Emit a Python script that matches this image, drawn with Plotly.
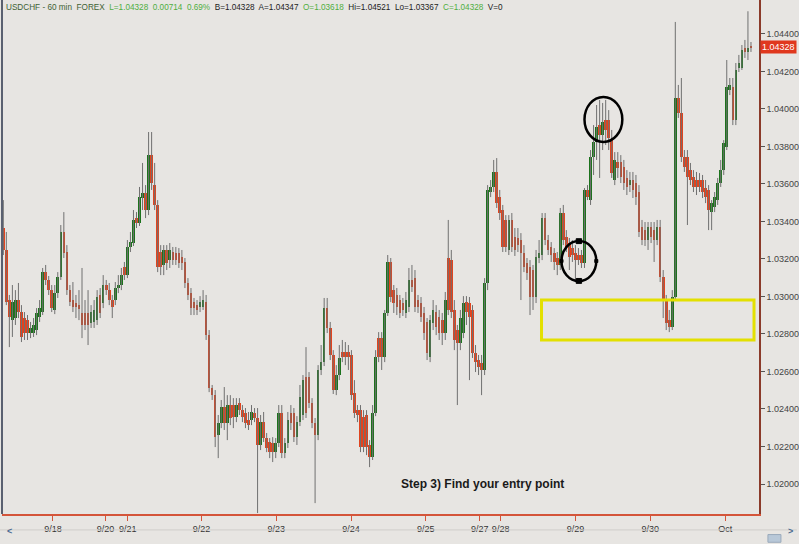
import plotly.graph_objects as go

SCALE = 1e5  # prices below are stored in units of 0.00001

open5 = [
103365,103248,102981,102874,102885,102981,102917,102885,102874,102805,
102805,102821,102890,102917,103130,103088,103034,102928,103018,103104,
103344,103237,103034,102981,102965,102954,102912,102912,102912,102858,
102864,102874,103008,102965,103061,103034,102981,102981,103045,103061,
103157,103114,103264,103285,103418,103392,103525,103552,103461,103754,
103594,103488,103237,103168,103248,103194,103237,103232,103232,103210,
103184,103072,103018,102970,102954,102944,102944,102970,102794,102512,
102474,102261,102325,102410,102325,102421,102421,102357,102432,102394,
102378,102341,102341,102378,102352,102208,102330,102245,102224,102218,
102170,102218,102378,102165,102218,102378,102378,102250,102330,102368,
102570,102570,102432,102325,102261,102608,102650,102938,102832,102688,
102501,102581,102704,102704,102704,102688,102485,102394,102394,102357,
102368,102208,102144,102378,102778,102778,102677,102912,103184,103034,
103008,102981,102965,102912,102944,103088,103098,102981,102965,102912,
102864,102677,102858,102917,102890,102874,102805,103205,103194,102928,
102821,102752,102805,102970,102965,102928,102698,102661,102645,102608,
103072,103557,103584,103664,103530,103461,103408,103248,103408,103317,
103312,103301,103232,103178,103157,103141,102997,103205,103221,103418,
103301,103264,103232,103205,103168,103445,103317,103285,103258,103232,
103221,103221,103178,103568,103514,103744,103824,103914,103861,103941,
103941,103834,103621,103717,103717,103690,103632,103594,103621,103605,
103557,103370,103354,103301,103370,103354,103301,103370,103104,102981,
102874,102837,102997,104058,103978,103744,103744,103674,103637,103621,
103621,103621,103578,103568,103450,103477,103514,103605,103674,103797,
104101,104117,103941,104218,104218,104325,104304,104330,
]

high5 = [
103514,103344,103008,103061,103034,103072,102954,102917,102901,102864,
102885,102938,102981,103152,103168,103109,103061,103061,103130,103381,
103450,103274,103061,103077,103008,103034,103152,102981,103034,102954,
102981,103034,103045,103114,103088,103072,103008,103077,103114,103152,
103184,103301,103344,103461,103450,103584,103712,103594,103877,103877,
103712,103514,103274,103274,103274,103285,103264,103264,103258,103248,
103205,103098,103045,102992,102981,103002,103034,103008,102821,102528,
102501,102368,102448,102517,102474,102474,102458,102458,102458,102421,
102405,102384,102421,102405,102405,102368,102384,102272,102245,102250,
102245,102421,102421,102245,102384,102421,102405,102362,102528,102581,
102730,102597,102458,102352,102634,102741,102992,102992,102864,102714,
102634,102741,102768,102757,102741,102714,102554,102421,102421,102394,
102394,102234,102421,102714,102810,102810,102928,103221,103205,103061,
103045,103008,102992,103024,103152,103168,103141,103008,102997,102944,
102885,102901,102981,102954,102928,102912,103024,103408,103248,102981,
102848,102928,103002,103002,102997,102954,102741,102688,102688,103098,
103594,103621,103728,103738,103568,103488,103434,103434,103445,103365,
103365,103338,103274,103205,103194,103168,103248,103301,103445,103445,
103328,103290,103258,103237,103472,103488,103354,103312,103301,103274,
103258,103248,103578,103594,103781,103914,104021,104048,104032,104048,
103994,103888,103770,103770,103754,103728,103674,103664,103664,103648,
103594,103408,103397,103397,103397,103397,103408,103408,103141,103008,
102928,103034,104464,104128,104165,103781,103781,103712,103674,103664,
103658,103648,103621,103594,103514,103557,103632,103728,103834,104261,
104165,104165,104245,104288,104341,104368,104521,104357,
]

low5 = [
103221,102954,102730,102784,102848,102885,102757,102768,102768,102778,
102784,102794,102864,102901,103061,103008,102917,102906,102992,103088,
103205,103008,102949,102917,102885,102874,102778,102821,102741,102832,
102832,102848,102885,102938,103008,102954,102885,102954,103018,103034,
103088,103098,103237,103269,103365,103376,103461,103418,103434,103568,
103461,103130,103114,103114,103141,103152,103168,103168,103152,103141,
103045,102981,102901,102901,102901,102917,102928,102768,102490,102448,
102197,102138,102298,102288,102234,102314,102298,102330,102368,102330,
102298,102288,102314,102330,101845,102181,102224,102170,102138,102117,
102138,102197,102138,102138,102192,102288,102224,102208,102309,102341,
102352,102405,102298,101898,102234,102581,102629,102805,102661,102480,
102474,102554,102650,102634,102608,102448,102352,102330,102170,102170,
102154,102090,102128,102362,102650,102608,102650,102896,102970,102912,
102901,102885,102896,102885,102917,103024,102917,102912,102864,102768,
102661,102650,102821,102794,102768,102741,102768,102901,102885,102714,
102421,102714,102778,102848,102554,102672,102597,102581,102474,102581,
103034,103530,103557,103472,103408,103237,103237,103221,103237,103216,
103237,102981,103130,103088,102901,102928,102965,103178,103194,103274,
103221,103184,103141,103114,103141,103274,103237,103141,103184,103088,
103168,103152,103152,103514,103488,103648,103728,103632,103781,103808,
103781,103632,103594,103632,103605,103568,103541,103557,103525,103488,
103317,103274,103269,103248,103285,103184,103274,103077,102885,102821,
102810,102821,102981,103952,103717,103664,103381,103594,103557,103541,
103557,103525,103498,103354,103354,103450,103488,103584,103648,103781,
104074,103914,103914,104197,104208,104272,104261,104304,
]

close5 = [
103248,102970,102890,102970,102981,102917,102784,102805,102805,102832,
102848,102912,102938,103130,103088,103034,102938,103018,103104,103344,
103232,103034,102970,102944,102944,102933,102848,102848,102848,102917,
102928,102997,102912,103061,103034,102981,102944,103045,103061,103114,
103114,103264,103290,103408,103392,103530,103552,103461,103754,103605,
103488,103157,103157,103248,103178,103248,103194,103194,103178,103178,
103072,103008,102938,102938,102928,102970,102981,102794,102512,102474,
102250,102325,102410,102325,102421,102352,102357,102421,102394,102357,
102325,102314,102384,102352,102208,102330,102245,102192,102170,102170,
102218,102378,102165,102218,102341,102325,102250,102330,102464,102554,
102378,102432,102325,102261,102608,102650,102938,102832,102688,102501,
102581,102672,102677,102677,102677,102474,102378,102368,102197,102197,
102197,102144,102378,102677,102677,102677,102912,103184,102997,102965,
102944,102912,102928,102981,103088,103050,102944,102944,102890,102805,
102698,102874,102928,102837,102805,102805,102981,102928,102917,102768,
102752,102885,102965,102917,102890,102698,102650,102624,102608,103072,
103568,103584,103664,103498,103445,103264,103264,103408,103264,103248,
103274,103232,103157,103125,102997,102997,103210,103232,103418,103301,
103248,103221,103184,103168,103445,103301,103264,103210,103221,103194,
103194,103178,103568,103530,103744,103824,103904,103861,103930,103888,
103845,103658,103728,103685,103637,103605,103584,103621,103568,103530,
103344,103301,103301,103370,103317,103301,103370,103104,102981,102858,
102837,102997,104058,103978,103744,103690,103637,103621,103584,103584,
103584,103557,103530,103461,103498,103530,103605,103674,103818,104117,
104128,103941,104208,104245,104314,104304,104325,104328,
]

date_labels = ["9/18", "9/20", "9/21", "9/22", "9/23", "9/24", "9/25",
               "9/27", "9/28", "9/29", "9/30", "Oct"]
date_tick_idx = [16.4, 33.8, 41.1, 65.5, 90.2, 114.9, 139.6,
                 157.4, 164.3, 189.0, 213.7, 238.5]
price_ticks = [1.020, 1.022, 1.024, 1.026, 1.028, 1.030, 1.032,
               1.034, 1.036, 1.038, 1.040, 1.042, 1.044]
last_price = 1.04328

header_parts = [
    ("USDCHF - 60 min  FOREX  ", "#3f6234"),
    ("L=1.04328  0.00714  0.69%  ", "#4fae3f"),
    ("B=1.04328  A=1.04347  ", "#222222"),
    ("O=1.03618  ", "#4fae3f"),
    ("Hi=1.04521  Lo=1.03367  ", "#222222"),
    ("C=1.04328  ", "#4fae3f"),
    ("V=0", "#222222"),
]
caption = "Step 3) Find your entry point"

GREEN = "#1c721c"
RED = "#e2441f"
WICK = "#707070"
BG = "#e7e5e2"
FONT = "Arial, Liberation Sans, sans-serif"

o = [v / SCALE for v in open5]
h = [v / SCALE for v in high5]
l = [v / SCALE for v in low5]
c = [v / SCALE for v in close5]
n = len(c)
idx = list(range(n))

wx, wy = [], []
for i in idx:
    wx += [i, i, None]
    wy += [l[i], h[i], None]

base = [min(a, b) for a, b in zip(o, c)]
body = [max(abs(b - a), 0.00004) for a, b in zip(o, c)]
colors = [GREEN if b >= a else RED for a, b in zip(o, c)]

fig = go.Figure()
fig.add_trace(go.Scatter(x=wx, y=wy, mode="lines",
                         line=dict(color=WICK, width=1),
                         hoverinfo="skip", showlegend=False))
fig.add_trace(go.Bar(x=idx, y=body, base=base, width=0.86,
                     marker=dict(color=colors, line=dict(width=0)),
                     showlegend=False))

shapes = []
# yellow zone
shapes.append(dict(type="rect", xref="x", yref="y", x0=177.8, x1=248.0,
                   y0=1.02768, y1=1.02981,
                   line=dict(color="#e3e000", width=3)))
# small circle with crosshair marks
shapes.append(dict(type="circle", xref="x", yref="y", x0=184.4, x1=195.9,
                   y0=1.03082, y1=1.03296, line=dict(color="black", width=2.5)))
cx, cy = 190.15, 1.03189
for (x0, x1, y0, y1) in [
    (cx - 0.9, cx + 0.9, 1.03282, 1.03308),
    (cx - 0.9, cx + 0.9, 1.03070, 1.03096),
    (184.4 - 0.5, 184.4 + 0.5, cy - 0.00008, cy + 0.00008),
    (195.9 - 0.5, 195.9 + 0.5, cy - 0.00008, cy + 0.00008),
]:
    shapes.append(dict(type="rect", xref="x", yref="y", x0=x0, x1=x1,
                       y0=y0, y1=y1, fillcolor="black",
                       line=dict(color="black", width=1)))
# big circle at top
shapes.append(dict(type="circle", xref="x", yref="y", x0=192.0, x1=204.5,
                   y0=1.03824, y1=1.04064, line=dict(color="black", width=2.5)))
# left border
shapes.append(dict(type="line", xref="paper", yref="paper", x0=0, x1=0,
                   y0=0, y1=1, line=dict(color="#5a6070", width=2)))
# scrollbar strip
shapes.append(dict(type="line", xref="paper", yref="paper", x0=-0.003, x1=1.05,
                   y0=-0.031, y1=-0.031, line=dict(color="#cfcdca", width=1)))
shapes.append(dict(type="rect", xref="paper", yref="paper", x0=1.0118, x1=1.0290,
                   y0=-0.040, y1=-0.055, fillcolor="#b8c8d8",
                   line=dict(color="#9aaabb", width=1)))

header = "".join(f'<span style="color:{col}">{txt}</span>' for txt, col in header_parts)

annotations = [
    dict(xref="paper", yref="paper", x=0.002, y=1.0, xanchor="left", yanchor="top",
         text=header, showarrow=False, font=dict(family=FONT, size=8.2), yshift=-1),
    dict(xref="x", yref="y", x=158.4, y=1.0200, text=f"<b>{caption}</b>",
         showarrow=False, font=dict(family=FONT, size=12, color="#1a1a1a")),
    dict(xref="paper", yref="y", x=1.0, y=last_price, xanchor="left",
         text="1.04328", showarrow=False, bgcolor="#e0381e", borderpad=1,
         font=dict(family=FONT, size=9, color="white"), xshift=1),
    dict(xref="paper", yref="paper", x=0.004, y=-0.047, xanchor="left",
         text="<b>&lt;</b>", showarrow=False, font=dict(family=FONT, size=9, color="#4a6a90")),
    dict(xref="paper", yref="paper", x=1.047, y=-0.047, xanchor="right",
         text="<b>&gt;</b>", showarrow=False, font=dict(family=FONT, size=9, color="#4a6a90")),
]

fig.update_layout(
    width=799, height=544,
    margin=dict(l=2, r=38, t=0, b=30),
    paper_bgcolor=BG, plot_bgcolor=BG,
    showlegend=False, bargap=0,
    font=dict(family=FONT, size=9, color="#333333"),
    shapes=shapes, annotations=annotations,
    xaxis=dict(range=[-0.428, 249.65], showgrid=False, zeroline=False,
               showline=True, linecolor="#d4553a", linewidth=1.5,
               tickmode="array", tickvals=date_tick_idx, ticktext=date_labels,
               ticks="outside", ticklen=5, tickcolor="#d4553a",
               tickfont=dict(family=FONT, size=9, color="#333333")),
    yaxis=dict(range=[1.01840, 1.04581], side="right", showgrid=False,
               zeroline=False, showline=True, linecolor="#8b3a2a", linewidth=1.5,
               tickmode="array", tickvals=price_ticks, tickformat=".5f",
               ticks="outside", ticklen=4, tickcolor="#555555",
               tickfont=dict(family=FONT, size=9, color="#444444")),
)

fig.write_html("out.html",
               config={"displayModeBar": False},
               post_script="document.body.style.margin='0';document.body.style.background='%s';" % BG)
